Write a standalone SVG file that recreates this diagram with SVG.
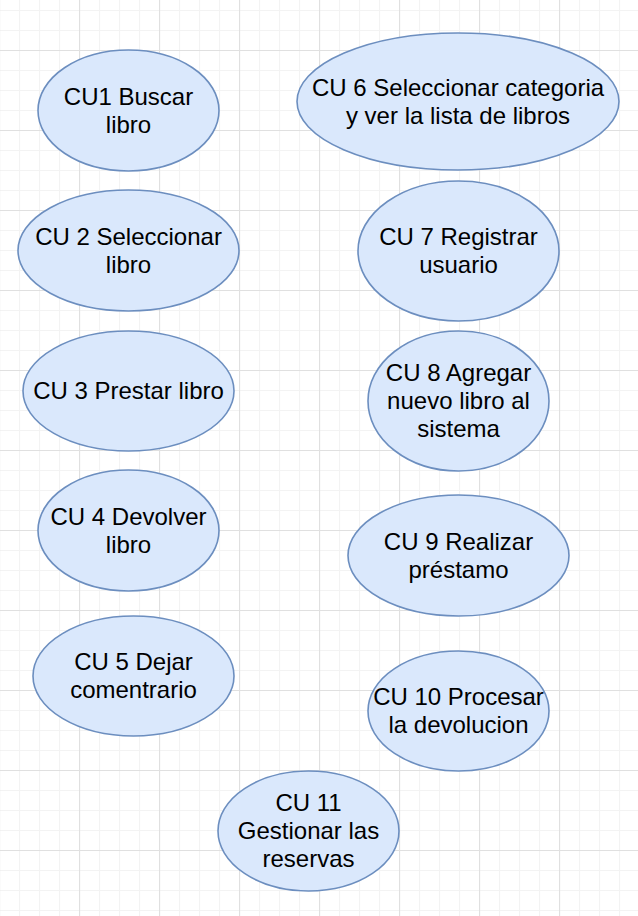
<svg xmlns="http://www.w3.org/2000/svg" width="638" height="916" viewBox="0 0 638 916">
  <defs>
    <pattern id="minor" x="-1" y="10" width="20" height="20" patternUnits="userSpaceOnUse">
      <path d="M0 0.5H20M0.5 0V20" fill="none" stroke="#f3f3f3" stroke-width="1.2"/>
    </pattern>
    <pattern id="major" x="-1" y="50" width="80" height="80" patternUnits="userSpaceOnUse">
      <path d="M0 0.5H80M0.5 0V80" fill="none" stroke="#e0e0e0" stroke-width="1.2"/>
    </pattern>
    <style>
      .uc ellipse { fill: #dae8fc; stroke: #6c8ebf; stroke-width: 1.6; }
      .uc text { font-family: "Liberation Sans", Arial, Helvetica, sans-serif; font-size: 24px; fill: #000000; text-anchor: middle; }
    </style>
  </defs>
  <rect width="638" height="916" fill="#ffffff"/>
  <rect width="638" height="916" fill="url(#minor)"/>
  <rect width="638" height="916" fill="url(#major)"/>

  <g id="connectors"></g>

  <g id="cu1" class="uc">
    <ellipse cx="128.5" cy="110.5" rx="90.5" ry="60.5"/>
    <text x="128.5" y="105">CU1 Buscar</text>
    <text x="128.5" y="133">libro</text>
  </g>
  <g id="cu2" class="uc">
    <ellipse cx="128.5" cy="250.5" rx="110.5" ry="60.5"/>
    <text x="128.5" y="245">CU 2 Seleccionar</text>
    <text x="128.5" y="273">libro</text>
  </g>
  <g id="cu3" class="uc">
    <ellipse cx="128.5" cy="391" rx="105.5" ry="60"/>
    <text x="128.5" y="399">CU 3 Prestar libro</text>
  </g>
  <g id="cu4" class="uc">
    <ellipse cx="128.5" cy="530.5" rx="90.5" ry="60.5"/>
    <text x="128.5" y="525">CU 4 Devolver</text>
    <text x="128.5" y="553">libro</text>
  </g>
  <g id="cu5" class="uc">
    <ellipse cx="133.5" cy="676" rx="100.5" ry="60"/>
    <text x="133.5" y="670">CU 5 Dejar</text>
    <text x="133.5" y="698">comentrario</text>
  </g>
  <g id="cu6" class="uc">
    <ellipse cx="458" cy="101.5" rx="161" ry="68.5"/>
    <text x="458" y="96">CU 6 Seleccionar categoria</text>
    <text x="458" y="124">y ver la lista de libros</text>
  </g>
  <g id="cu7" class="uc">
    <ellipse cx="458.5" cy="251" rx="100.5" ry="70"/>
    <text x="458.5" y="245">CU 7 Registrar</text>
    <text x="458.5" y="273">usuario</text>
  </g>
  <g id="cu8" class="uc">
    <ellipse cx="458.5" cy="401" rx="90.5" ry="70"/>
    <text x="458.5" y="381">CU 8 Agregar</text>
    <text x="458.5" y="409">nuevo libro al</text>
    <text x="458.5" y="437">sistema</text>
  </g>
  <g id="cu9" class="uc">
    <ellipse cx="458.5" cy="555.5" rx="110.5" ry="60.5"/>
    <text x="458.5" y="550">CU 9 Realizar</text>
    <text x="458.5" y="578">préstamo</text>
  </g>
  <g id="cu10" class="uc">
    <ellipse cx="458.5" cy="711" rx="90.5" ry="60"/>
    <text x="458.5" y="705">CU 10 Procesar</text>
    <text x="458.5" y="733">la devolucion</text>
  </g>
  <g id="cu11" class="uc">
    <ellipse cx="308.5" cy="831" rx="90.5" ry="60"/>
    <text x="308.5" y="811">CU 11</text>
    <text x="308.5" y="839">Gestionar las</text>
    <text x="308.5" y="867">reservas</text>
  </g>
</svg>
